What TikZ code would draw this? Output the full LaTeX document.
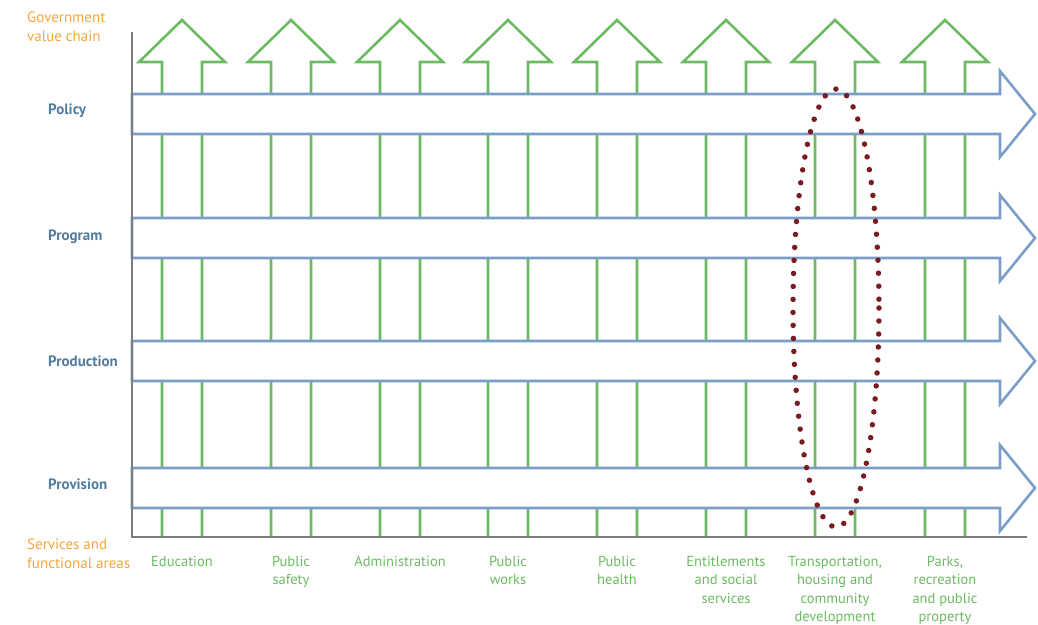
\documentclass[tikz,border=0pt]{standalone}
\usepackage{fontspec}
\setmainfont{PT Sans}
\usetikzlibrary{calc}
\definecolor{chainorange}{RGB}{247,164,62}
\definecolor{stageblue}{RGB}{122,158,200}
\definecolor{stagetext}{RGB}{80,124,160}
\definecolor{areagreen}{RGB}{108,186,98}
\definecolor{axisgrey}{RGB}{125,125,128}
\definecolor{focusred}{RGB}{120,28,32}

\begin{document}
\begin{tikzpicture}[x=1pt,y=-1pt,
  areaarrow/.style={draw=areagreen,line width=2.6pt},
  stagearrow/.style={draw=stageblue,fill=white,line width=2.6pt},
  stagelabel/.style={anchor=west,inner sep=0pt,text=stagetext,font=\fontsize{15}{18}\selectfont\bfseries},
  arealabel/.style={anchor=north,inner sep=0pt,align=center,text=areagreen,font=\fontsize{14.5}{18.5}\selectfont},
  chainlabel/.style={anchor=north west,inner sep=0pt,align=left,text=chainorange,font=\fontsize{15}{18.5}\selectfont}]
\useasboundingbox (0,0) rectangle (1038,624);
\foreach \x in {182,291,400,508,617,726,835,945}
\draw[areaarrow] (\x-20,537) -- (\x-20,62) -- (\x-43,62) -- (\x,20) -- (\x+43,62) -- (\x+20,62) -- (\x+20,537);
\foreach \y/\name/\ly in {94/Policy/111,218/Program/237,341/Production/361,468/Provision/484}
{
\draw[stagearrow] (132,\y) -- (1000,\y) -- (1000,\y-23) -- (1035,\y+20) -- (1000,\y+63) -- (1000,\y+40) -- (132,\y+40) -- cycle;
\node[stagelabel] (\name) at (48,\ly) {\name};
}
\draw[axisgrey,line width=2.6pt] (132,32) -- (132,537) -- (1027,537);
\foreach \x/\txt [count=\i] in {182/Education,291/{Public\\safety},400/Administration,508/{Public\\works},617/{Public\\health},726/{Entitlements\\and social\\services},835/{Transportation,\\housing and\\community\\development},945/{Parks,\\recreation\\and public\\property}}
\node[arealabel] (area\i) at (\x,556) {\txt};
\node[chainlabel] (valuechain) at (27,12) {Government\\value chain};
\node[chainlabel] (services) at (27,539) {Services and\\functional areas};
\draw[focusred,line width=5.5pt,line cap=round,dash pattern=on 0pt off 13pt] (836,308) ellipse [x radius=43,y radius=219];
\end{tikzpicture}
\end{document}
